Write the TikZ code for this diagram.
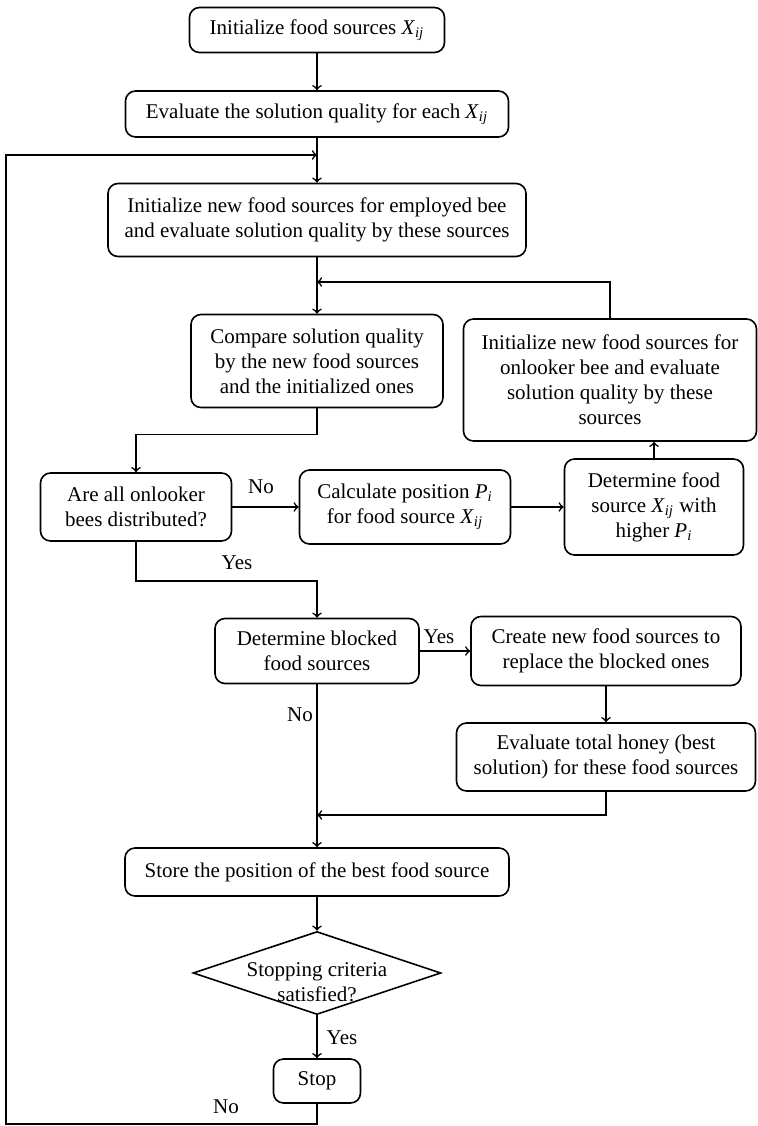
\documentclass[tikz,border=0pt]{standalone}
\usepackage{fontspec}
\setmainfont{Liberation Serif}
\usetikzlibrary{arrows,shapes.geometric,positioning}
\tikzset{
  block/.style={
    rectangle,
    rounded corners=5pt,
    draw=black, line width=0.8pt,
    align=center,
    inner sep=2pt,
  },
  decision/.style={
    diamond,
    draw=black, line width=0.8pt,
    inner sep=0pt,
  },
  tag/.style={inner sep=1pt},
}
\newcommand{\Xij}{\textit{X}\textsubscript{\textit{ij}}}
\newcommand{\posP}{\textit{P}\textsubscript{\textit{i}}}

\begin{document}
\begin{tikzpicture}[->,>=to,x=0.5pt,y=-0.5pt,line width=0.8pt,font=\fontsize{10.5}{12.5}\selectfont]
    \useasboundingbox (0,0) rectangle (757,1126);

    \node[block, minimum width=127.5pt, minimum height=22.5pt] (init) at (317,30)
    {Initialize food sources \Xij};
    \node[block, minimum width=191.5pt, minimum height=23pt] (eval) at (317,114)
    {Evaluate the solution quality for each \Xij};
    \node[block, minimum width=209pt, minimum height=36.5pt] (employed) at (317,220)
    {Initialize new food sources for employed bee\\and evaluate solution quality by these sources};
    \node[block, minimum width=126pt, minimum height=46.5pt] (compare) at (317,361)
    {Compare solution quality\\by the new food sources\\and the initialized ones};
    \node[block, minimum width=146.5pt, minimum height=61pt] (onlooker) at (610,380)
    {Initialize new food sources for\\onlooker bee and evaluate\\solution quality by these\\sources};
    \node[block, minimum width=95.5pt, minimum height=34pt] (alldone) at (136,507)
    {Are all onlooker\\bees distributed?};
    \node[block, minimum width=105.5pt, minimum height=37pt] (calc) at (405,507)
    {Calculate position \posP\\for food source \Xij};
    \node[block, minimum width=89.5pt, minimum height=48pt] (pick) at (654,507)
    {Determine food\\source \Xij{} with\\higher \posP};
    \node[block, minimum width=102pt, minimum height=32.5pt] (blocked) at (317,651)
    {Determine blocked\\food sources};
    \node[block, minimum width=135pt, minimum height=34.5pt] (create) at (606,651)
    {Create new food sources to\\replace the blocked ones};
    \node[block, minimum width=149.5pt, minimum height=34pt] (honey) at (606,757)
    {Evaluate total honey (best\\solution) for these food sources};
    \node[block, minimum width=192pt, minimum height=24pt] (store) at (317,872)
    {Store the position of the best food source};
    \node[decision, minimum width=124pt, minimum height=41.5pt] (crit) at (317,973)
    {\smash{\makebox[0pt]{\raisebox{-8pt}{\begin{tabular}{@{}c@{}}Stopping criteria\\satisfied?\end{tabular}}}}};
    \node[block, minimum width=43.5pt, minimum height=22pt] (stop) at (317,1081)
    {Stop};

    % joins on the main column
    \coordinate (loopin) at (317,155);
    \coordinate (loopcorner) at (6,1124);
    \coordinate (backin) at (317,282);
    \coordinate (backjoin) at (317,815);

    \draw (init) -- (eval);
    \draw (eval) -- (employed);
    \draw (employed) -- (compare);
    \draw (onlooker.north) |- (backin);
    \draw (compare.south) -- ++(0,26) -| (alldone.north);
    \draw (alldone) -- (calc);
    \node[tag] (nodist) at (261,487) {No};
    \draw (calc) -- (pick);
    \draw (pick.north) -- (pick.north |- onlooker.south);
    \draw (alldone.south) -- ++(0,39) -| (blocked.north);
    \node[tag] (yesdist) at (237,563) {Yes};
    \draw (blocked) -- (create);
    \node[tag] (yesblk) at (439,637) {Yes};
    \draw (create) -- (honey);
    \draw (honey.south) |- (backjoin);
    \draw (blocked) -- (store);
    \node[tag] (noblk) at (300,715) {No};
    \draw (store) -- (crit);
    \draw (crit) -- (stop);
    \node[tag] (yesstop) at (342,1038) {Yes};
    \draw (stop.south) |- (loopcorner) |- (loopin);
    \node[tag] (noloop) at (226,1107) {No};
\end{tikzpicture}
\end{document}
